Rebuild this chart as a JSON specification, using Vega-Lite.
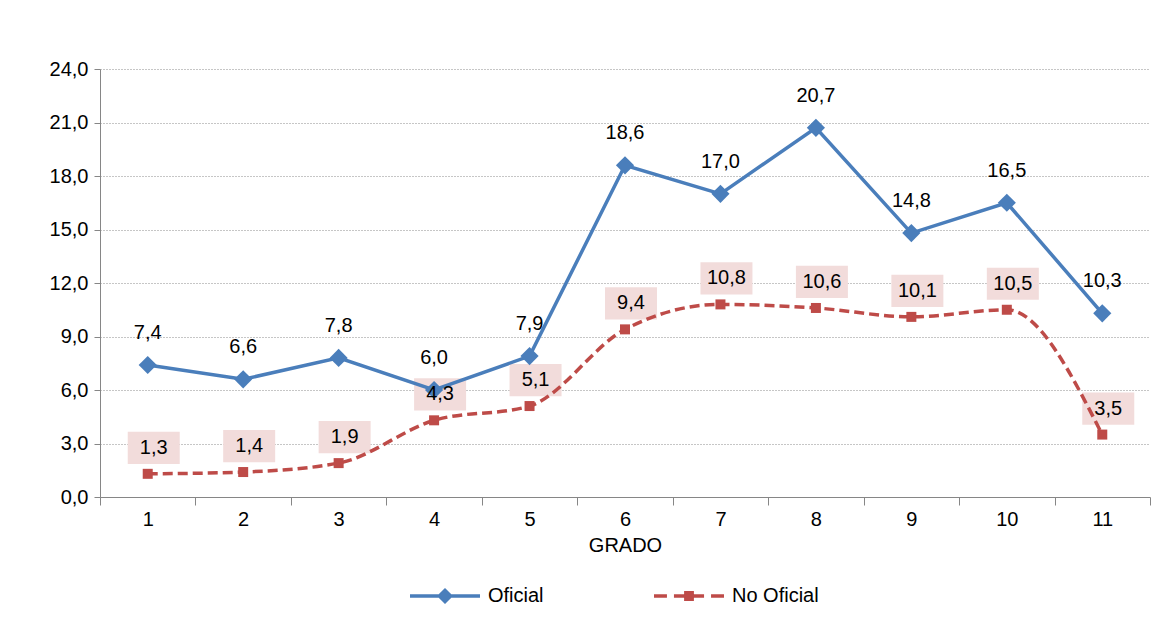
{
  "$schema": "https://vega.github.io/schema/vega-lite/v6.json",
  "width": 1050,
  "height": 428,
  "autosize": {"type": "none"},
  "padding": {"left": 100, "top": 69, "right": 17, "bottom": 125},
  "background": "white",
  "config": {
    "locale": {"number": {"decimal": ",", "thousands": ".", "grouping": [3], "currency": ["$", ""]}},
    "font": "Liberation Sans",
    "view": {"stroke": null},
    "axis": {"labelFont": "Liberation Sans", "titleFont": "Liberation Sans", "labelColor": "black", "titleColor": "black", "domainColor": "#868686", "tickColor": "#868686"}
  },
  "data": {
    "values": [
      {"grado": "1", "serie": "Oficial", "valor": 7.4},
      {"grado": "2", "serie": "Oficial", "valor": 6.6},
      {"grado": "3", "serie": "Oficial", "valor": 7.8},
      {"grado": "4", "serie": "Oficial", "valor": 6.0},
      {"grado": "5", "serie": "Oficial", "valor": 7.9},
      {"grado": "6", "serie": "Oficial", "valor": 18.6},
      {"grado": "7", "serie": "Oficial", "valor": 17.0},
      {"grado": "8", "serie": "Oficial", "valor": 20.7},
      {"grado": "9", "serie": "Oficial", "valor": 14.8},
      {"grado": "10", "serie": "Oficial", "valor": 16.5},
      {"grado": "11", "serie": "Oficial", "valor": 10.3},
      {"grado": "1", "serie": "No Oficial", "valor": 1.3},
      {"grado": "2", "serie": "No Oficial", "valor": 1.4},
      {"grado": "3", "serie": "No Oficial", "valor": 1.9},
      {"grado": "4", "serie": "No Oficial", "valor": 4.3},
      {"grado": "5", "serie": "No Oficial", "valor": 5.1},
      {"grado": "6", "serie": "No Oficial", "valor": 9.4},
      {"grado": "7", "serie": "No Oficial", "valor": 10.8},
      {"grado": "8", "serie": "No Oficial", "valor": 10.6},
      {"grado": "9", "serie": "No Oficial", "valor": 10.1},
      {"grado": "10", "serie": "No Oficial", "valor": 10.5},
      {"grado": "11", "serie": "No Oficial", "valor": 3.5}
    ]
  },
  "encoding": {
    "x": {
      "field": "grado", "type": "ordinal",
      "sort": ["1","2","3","4","5","6","7","8","9","10","11"],
      "scale": {"type": "band", "paddingInner": 0, "paddingOuter": 0},
      "axis": {"title": "GRADO", "tickBand": "extent", "labelAngle": 0, "tickSize": 8, "labelFontSize": 20, "titleFontSize": 20, "titleFontWeight": "normal", "labelPadding": 4, "titlePadding": 6, "grid": false}
    },
    "y": {
      "field": "valor", "type": "quantitative",
      "scale": {"domain": [0, 24], "nice": false},
      "axis": {"title": null, "values": [0,3,6,9,12,15,18,21,24], "format": ".1f", "grid": true, "gridDash": [1, 2], "gridColor": "#8c8c8c", "tickSize": 6, "labelFontSize": 20, "labelPadding": 6}
    }
  },
  "layer": [
    {
      "transform": [{"filter": "datum.serie === 'No Oficial'"}],
      "mark": {"type": "point", "shape": "M-1,-0.62H1V0.62H-1Z", "filled": true, "fill": "#F2DCDB", "opacity": 1, "size": 2704, "yOffset": -26, "xOffset": 6, "strokeWidth": 0}
    },
    {
      "transform": [{"filter": "datum.serie === 'No Oficial'"}],
      "mark": {"type": "line", "interpolate": "monotone", "strokeDash": [10, 5], "strokeWidth": 3.5, "color": "#BE4B48"}
    },
    {
      "transform": [{"filter": "datum.serie === 'Oficial'"}],
      "mark": {"type": "line", "strokeWidth": 3.5, "color": "#4A7EBB"}
    },
    {
      "transform": [{"filter": "datum.serie === 'Oficial'"}],
      "mark": {"type": "point", "shape": "diamond", "filled": true, "opacity": 1, "size": 330, "color": "#4A7EBB"}
    },
    {
      "transform": [{"filter": "datum.serie === 'No Oficial'"}],
      "mark": {"type": "point", "shape": "square", "filled": true, "opacity": 1, "size": 100, "color": "#BE4B48"}
    },
    {
      "mark": {"type": "point", "filled": true, "opacity": 0},
      "encoding": {
        "color": {"field": "serie", "type": "nominal",
          "scale": {"domain": ["Oficial", "No Oficial"], "range": ["#4A7EBB", "#BE4B48"]},
          "legend": {
            "title": null, "orient": "none", "legendX": 310, "legendY": 492, "direction": "horizontal",
            "labelFontSize": 20, "labelColor": "black", "symbolSize": 4900, "columnPadding": 110, "labelOffset": 8,
            "encode": {"symbols": {"update": {
              "fill": {"signal": "datum.value === 'Oficial' ? '#4A7EBB' : '#BE4B48'"},
              "fillOpacity": {"value": 1},
              "opacity": {"value": 1},
              "strokeWidth": {"value": 0}
            }}}
          }},
        "shape": {"field": "serie", "type": "nominal",
          "scale": {"domain": ["Oficial", "No Oficial"], "range": [
            "M-1,-0.05H-0.18L0,-0.23L0.18,-0.05H1V0.05H0.18L0,0.23L-0.18,0.05H-1Z",
            "M-1,-0.05H-0.63V0.05H-1Z M-0.43,-0.05H-0.14V-0.14H0.14V-0.05H0.43V0.05H0.14V0.14H-0.14V0.05H-0.43Z M0.63,-0.05H1V0.05H0.63Z"
          ]},
          "legend": {
            "title": null, "orient": "none", "legendX": 310, "legendY": 492, "direction": "horizontal",
            "labelFontSize": 20, "labelColor": "black", "symbolSize": 4900, "columnPadding": 110, "labelOffset": 8,
            "encode": {"symbols": {"update": {
              "fill": {"signal": "datum.value === 'Oficial' ? '#4A7EBB' : '#BE4B48'"},
              "fillOpacity": {"value": 1},
              "opacity": {"value": 1},
              "strokeWidth": {"value": 0}
            }}}
          }}
      }
    },
    {
      "transform": [{"filter": "datum.serie === 'Oficial'"}],
      "mark": {"type": "text", "fontSize": 20, "color": "black", "yOffset": -32},
      "encoding": {"text": {"field": "valor", "type": "quantitative", "format": ".1f"}}
    },
    {
      "transform": [{"filter": "datum.serie === 'No Oficial'"}],
      "mark": {"type": "text", "fontSize": 20, "color": "black", "yOffset": -26, "xOffset": 6},
      "encoding": {"text": {"field": "valor", "type": "quantitative", "format": ".1f"}}
    }
  ]
}
